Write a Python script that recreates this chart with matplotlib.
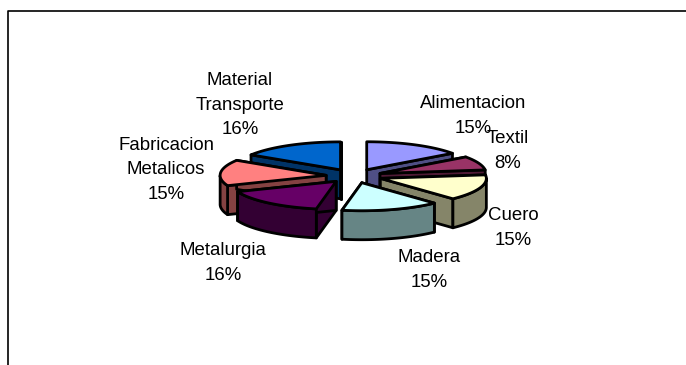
import numpy as np
import matplotlib
matplotlib.use('Agg')
import matplotlib.pyplot as plt
from matplotlib.patches import Polygon

plt.rcParams['font.family'] = ['Liberation Sans', 'DejaVu Sans']

# datos
sectores = ['Alimentacion', 'Textil', 'Cuero', 'Madera', 'Metalurgia',
            'Fabricacion\nMetalicos', 'Material\nTransporte']
porcentajes = [15, 8, 15, 15, 16, 15, 16]
colores_top = ['#9999FF', '#993366', '#FFFFCC', '#CCFFFF', '#660066', '#FF8080', '#0066CC']
colores_lado = ['#4F4F85', '#4F1A35', '#858569', '#668585', '#330033', '#854242', '#003366']

# geometria del pastel, en pixeles de la imagen
cx, cy = 354, 176
rx, ry = 106, 28
ex, ey = 28, 7
prof = 29

# posicion de las etiquetas
pos_etiquetas = [(473, 116), (508, 151), (513, 228), (429, 270),
                 (223, 263), (166, 170), (240, 105)]

fig = plt.figure(figsize=(6.86, 3.65), dpi=100)
ax = fig.add_axes([0, 0, 1, 1])
ax.set_xlim(0, 686)
ax.set_ylim(365, 0)
ax.axis('off')

# marco del grafico
ax.plot([8, 8, 686], [365, 11, 11], color='black', lw=1.2, solid_capstyle='butt')


def punto(t, ax0, ay0):
    return ax0 + rx * np.sin(t), ay0 - ry * np.cos(t)


def dibujar_sector(i, ini, fin):
    med = (ini + fin) / 2
    ax0 = cx + ex * np.sin(med)
    ay0 = cy - ey * np.cos(med)
    ts = np.linspace(ini, fin, 60)
    xs, ys = punto(ts, ax0, ay0)
    kw = dict(edgecolor='black', lw=2, joinstyle='round')

    # caras de corte
    for k in (0, -1):
        q = [(ax0, ay0), (xs[k], ys[k]), (xs[k], ys[k] + prof), (ax0, ay0 + prof)]
        ax.add_patch(Polygon(q, facecolor=colores_lado[i], **kw))

    # pared exterior, solo la parte de delante
    mask = np.cos(ts) <= 0
    if mask.any():
        xf, yf = xs[mask], ys[mask]
        pared = list(zip(xf, yf)) + list(zip(xf[::-1], yf[::-1] + prof))
        ax.add_patch(Polygon(pared, facecolor=colores_lado[i], **kw))

    # cara de arriba
    top = [(ax0, ay0)] + list(zip(xs, ys))
    ax.add_patch(Polygon(top, facecolor=colores_top[i], **kw))


angulos = np.cumsum([0] + porcentajes) / sum(porcentajes) * 2 * np.pi

# de atras hacia delante
for i in [6, 0, 1, 5, 2, 4, 3]:
    dibujar_sector(i, angulos[i], angulos[i + 1])

for s, p, (x, y) in zip(sectores, porcentajes, pos_etiquetas):
    ax.text(x, y, f'{s}\n{p}%', ha='center', va='center', fontsize=13.4,
            linespacing=1.54, color='black')

fig.savefig('out.png', dpi=100)
